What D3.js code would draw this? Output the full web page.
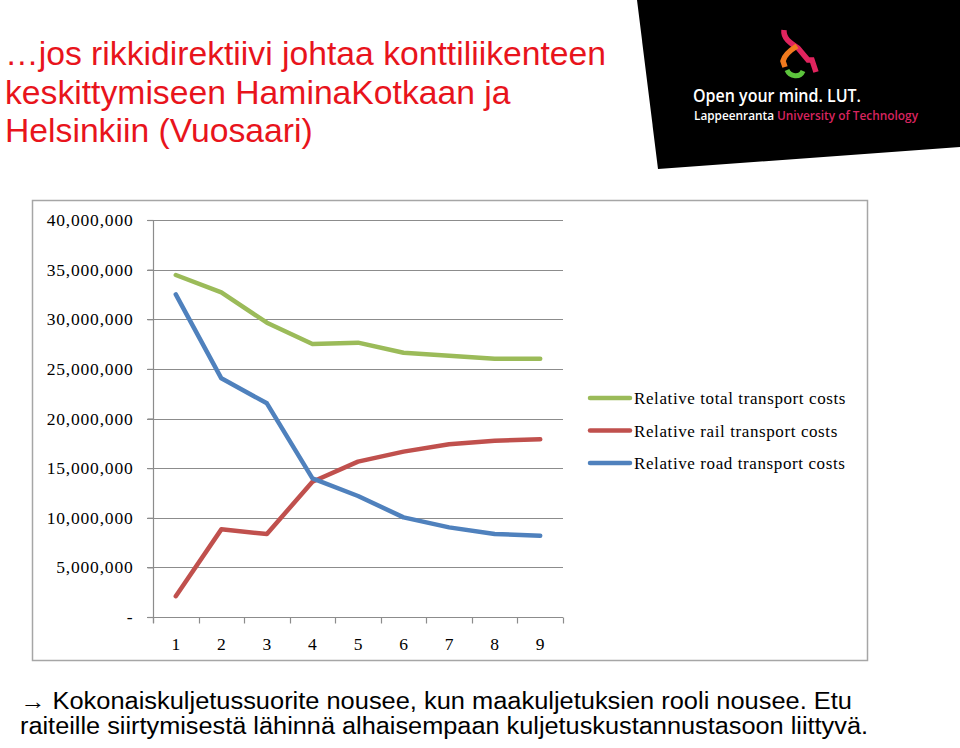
<!DOCTYPE html>
<html><head><meta charset="utf-8">
<script src="https://cdn.jsdelivr.net/npm/d3@7"></script>
<style>
html,body{margin:0;padding:0;background:#fff;}
svg{display:block;}
</style></head>
<body>
<svg id="c" width="960" height="748"></svg>
<script>
const categories = ["1","2","3","4","5","6","7","8","9"];
const totalCosts = [34460000, 32700000, 29650000, 27500000, 27640000, 26630000, 26330000, 26030000, 26030000];
const railCosts  = [2100000, 8830000, 8360000, 13630000, 15650000, 16660000, 17400000, 17770000, 17900000];
const roadCosts  = [32500000, 24050000, 21530000, 13970000, 12190000, 10040000, 9030000, 8360000, 8190000];
const yTicks = [0, 5000000, 10000000, 15000000, 20000000, 25000000, 30000000, 35000000, 40000000];
const seriesNames = ["Relative total transport costs", "Relative rail transport costs", "Relative road transport costs"];
const seriesColors = ["#9bbb59", "#c0504d", "#4f81bd"];
const titleLines = ["…jos rikkidirektiivi johtaa konttiliikenteen", "keskittymiseen HaminaKotkaan ja", "Helsinkiin (Vuosaari)"];
const noteArrow = "\u2192";
const noteLines = [" Kokonaiskuljetussuorite nousee, kun maakuljetuksien rooli nousee. Etu", "raiteille siirtymisestä lähinnä alhaisempaan kuljetuskustannustasoon liittyvä."];

const svg = d3.select("#c");

// Logo block
svg.append("path").attr("d", "M637,0 L960,0 L960,147 L658,169 Z").attr("fill", "#000");
const logo = svg.append("g");
logo.append("path").attr("d", "M784,30 C783,38 790,43 798,48 L808,60 L812,60 L813,63 L816,72")
  .attr("fill","none").attr("stroke","#e0245e").attr("stroke-width",5.5);
logo.append("path").attr("d", "M797,46 C789,51 784,56 783,61 L785,67")
  .attr("fill","none").attr("stroke","#f07a1e").attr("stroke-width",5.5);
logo.append("path").attr("d", "M787,70 C790,77 800,78 803,71")
  .attr("fill","none").attr("stroke","#5cc43c").attr("stroke-width",5);
logo.append("text").attr("x",693).attr("y",102).attr("fill","#fff")
  .attr("font-family","'Open Sans', 'DejaVu Sans', sans-serif").attr("font-size",18).attr("font-weight",600)
  .attr("textLength",168).attr("lengthAdjust","spacingAndGlyphs").text("Open your mind. LUT.");
logo.append("text").attr("x",694).attr("y",120).attr("fill","#fff")
  .attr("font-family","'Open Sans', 'DejaVu Sans', sans-serif").attr("font-size",12).attr("font-weight",600)
  .attr("textLength",80).attr("lengthAdjust","spacingAndGlyphs").text("Lappeenranta");
logo.append("text").attr("x",777).attr("y",120).attr("fill","#d8245f")
  .attr("font-family","'Open Sans', 'DejaVu Sans', sans-serif").attr("font-size",12).attr("font-weight",600)
  .attr("textLength",141).attr("lengthAdjust","spacingAndGlyphs").text("University of Technology");

// Title
svg.append("g").selectAll("text").data(titleLines).join("text")
  .attr("x", 5).attr("y", (d,i) => 65 + i*38.5)
  .attr("fill", "#e8141c")
  .attr("font-family", "'Liberation Sans', Arial, sans-serif").attr("font-size", 33.7)
  .text(d => d);

// Chart frame
svg.append("rect").attr("x",32.5).attr("y",200.5).attr("width",835).attr("height",460)
  .attr("fill","#fff").attr("stroke","#a6a6a6").attr("stroke-width",1.5);

const x = d3.scaleBand().domain(categories).range([153, 563]);
const y = d3.scaleLinear().domain([0, 40000000]).range([617, 220]);

// gridlines
svg.append("g").selectAll("line").data(yTicks.filter(d => d > 0)).join("line")
  .attr("x1", 147).attr("x2", 563)
  .attr("y1", d => Math.round(y(d)) + 0.5).attr("y2", d => Math.round(y(d)) + 0.5)
  .attr("stroke", "#8c8c8c").attr("stroke-width", 1.2);

// y axis
const yAxis = d3.axisLeft(y).tickValues(yTicks).tickSize(6).tickPadding(14)
  .tickFormat(d => d === 0 ? "-" : d3.format(",")(d));
const ya = svg.append("g").attr("transform", "translate(153.5,0)").call(yAxis);
ya.select(".domain").attr("stroke", "#8c8c8c").attr("stroke-width",1.2).attr("d", "M0,220V623");
ya.selectAll(".tick line").attr("stroke", "#8c8c8c").attr("stroke-width",1.2);
ya.selectAll(".tick text").attr("font-family", "'Liberation Serif', 'Times New Roman', serif")
  .attr("font-size", 17.5).attr("fill", "#000").attr("letter-spacing", 0.8);

// x axis
const xAxis = d3.axisBottom(x).tickSize(0).tickPadding(20);
const xa = svg.append("g").attr("transform", "translate(0,617.5)").call(xAxis);
xa.select(".domain").attr("stroke", "#8c8c8c").attr("stroke-width",1.2).attr("d", "M147,0H563");
xa.selectAll(".tick text").attr("font-family", "'Liberation Serif', 'Times New Roman', serif")
  .attr("font-size", 17.5).attr("fill", "#000");
const bounds = categories.map(c => x(c)).concat([x.range()[1]]);
xa.append("g").selectAll("line").data(bounds).join("line")
  .attr("x1", d => Math.round(d) + 0.5).attr("x2", d => Math.round(d) + 0.5)
  .attr("y1", 0).attr("y2", 6).attr("stroke", "#8c8c8c").attr("stroke-width",1.2);

// lines
const allSeries = [totalCosts, railCosts, roadCosts];
const line = d3.line().x((d,i) => x(categories[i]) + x.bandwidth()/2).y(d => y(d));
svg.append("g").selectAll("path").data(allSeries).join("path")
  .attr("d", d => line(d)).attr("fill", "none")
  .attr("stroke", (d,i) => seriesColors[i]).attr("stroke-width", 4.5)
  .attr("stroke-linejoin", "round").attr("stroke-linecap", "round");

// legend
const lg = svg.append("g").selectAll("g").data(seriesNames).join("g")
  .attr("transform", (d,i) => `translate(590,${398 + i*32.5})`);
lg.append("line").attr("x1",0).attr("x2",40).attr("y1",0).attr("y2",0)
  .attr("stroke", (d,i) => seriesColors[i]).attr("stroke-width",4.5).attr("stroke-linecap","round");
lg.append("text").attr("x",44).attr("y",6)
  .attr("font-family", "'Liberation Serif', 'Times New Roman', serif").attr("font-size",17)
  .attr("letter-spacing", 0.6)
  .attr("fill","#000").text(d => d);

// note
const note = svg.append("g").attr("font-family", "'Liberation Sans', Arial, sans-serif").attr("font-size", 23).attr("fill", "#000");
const n1 = note.append("text").attr("x", 20).attr("y", 709)
  .attr("textLength", 832).attr("lengthAdjust", "spacingAndGlyphs");
n1.append("tspan").attr("font-weight", "bold").text(noteArrow);
n1.append("tspan").text(noteLines[0]);
note.append("text").attr("x", 20).attr("y", 734)
  .attr("textLength", 848).attr("lengthAdjust", "spacingAndGlyphs").text(noteLines[1]);
</script>
</body></html>
